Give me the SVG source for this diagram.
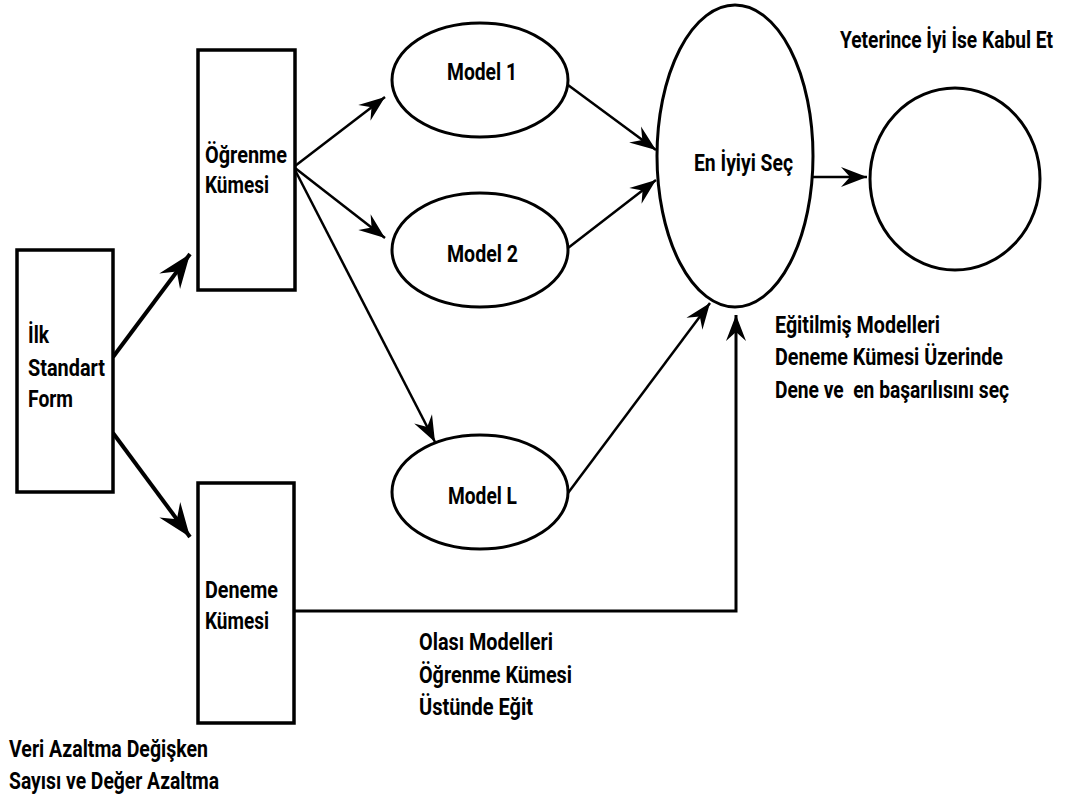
<svg xmlns="http://www.w3.org/2000/svg" width="1066" height="803" viewBox="0 0 1066 803">
<style>
  .box { fill: #ffffff; stroke: #000000; stroke-width: 3.5; }
  .ell { fill: #ffffff; stroke: #000000; stroke-width: 3; }
  .thin { fill: none; stroke: #000000; stroke-width: 2.5; marker-end: url(#ah); }
  .thick { fill: none; stroke: #000000; stroke-width: 4; marker-end: url(#ahb); }
  text { font-family: Roboto, "Liberation Sans", sans-serif; font-weight: bold; font-size: 24px; fill: #000000; }
</style>
<defs>
  <marker id="ah" markerUnits="userSpaceOnUse" viewBox="-28 -11 30 22" refX="0" refY="0" markerWidth="30" markerHeight="22" orient="auto">
    <path d="M0,0 L-26,-10 L-17,0 L-26,10 Z" fill="#000000"/>
  </marker>
  <marker id="ahb" markerUnits="userSpaceOnUse" viewBox="-36 -15 38 30" refX="0" refY="0" markerWidth="38" markerHeight="30" orient="auto">
    <path d="M0,0 L-34,-13 L-22,0 L-34,13 Z" fill="#000000"/>
  </marker>
</defs>
<rect width="1066" height="803" fill="#ffffff"/>

<g id="connectors">
  <line class="thick" x1="113" y1="357" x2="190" y2="254"/>
  <line class="thick" x1="113" y1="433" x2="190" y2="537"/>
  <line class="thin" x1="295" y1="166" x2="385" y2="97"/>
  <line class="thin" x1="295" y1="168" x2="385" y2="238"/>
  <line class="thin" x1="295" y1="170" x2="435" y2="442"/>
  <line class="thin" x1="568" y1="85" x2="656" y2="150"/>
  <line class="thin" x1="568" y1="248" x2="656" y2="180"/>
  <line class="thin" x1="568" y1="493" x2="710" y2="303"/>
  <line class="thin" x1="813" y1="177" x2="867" y2="177"/>
  <polyline class="thin" style="stroke-width:3" points="294,611 736,611 736,315"/>
</g>

<g id="ilk">
  <rect class="box" x="17" y="250" width="96" height="242"/>
  <text x="28" y="343" textLength="21" lengthAdjust="spacingAndGlyphs">İlk</text>
  <text x="28" y="376" textLength="77" lengthAdjust="spacingAndGlyphs">Standart</text>
  <text x="28" y="407" textLength="45" lengthAdjust="spacingAndGlyphs">Form</text>
</g>

<g id="ogrenme">
  <rect class="box" x="198" y="50" width="97" height="240"/>
  <text x="205" y="163" textLength="82" lengthAdjust="spacingAndGlyphs">Öğrenme</text>
  <text x="205" y="193" textLength="64" lengthAdjust="spacingAndGlyphs">Kümesi</text>
</g>

<g id="deneme">
  <rect class="box" x="198" y="483" width="96" height="240"/>
  <text x="205" y="598" textLength="73" lengthAdjust="spacingAndGlyphs">Deneme</text>
  <text x="205" y="629" textLength="64" lengthAdjust="spacingAndGlyphs">Kümesi</text>
</g>

<g id="model1">
  <ellipse class="ell" cx="480" cy="80" rx="88" ry="57"/>
  <text x="447" y="80" textLength="70" lengthAdjust="spacingAndGlyphs">Model 1</text>
</g>

<g id="model2">
  <ellipse class="ell" cx="480" cy="250" rx="88" ry="57"/>
  <text x="447" y="262" textLength="71" lengthAdjust="spacingAndGlyphs">Model 2</text>
</g>

<g id="modelL">
  <ellipse class="ell" cx="480" cy="492" rx="88" ry="57"/>
  <text x="448" y="504" textLength="69" lengthAdjust="spacingAndGlyphs">Model L</text>
</g>

<g id="eniyi">
  <ellipse class="ell" cx="735" cy="156" rx="78" ry="151"/>
  <text x="694" y="171" textLength="99" lengthAdjust="spacingAndGlyphs">En İyiyi Seç</text>
</g>

<g id="kabul">
  <ellipse class="ell" cx="955" cy="179" rx="85" ry="91"/>
  <text transform="translate(840,48) scale(0.75,1)" x="0" y="0" textLength="284" lengthAdjust="spacingAndGlyphs">Yeterince İyi İse Kabul Et</text>
</g>

<g id="label-egitilmis">
  <text x="775" y="333" textLength="165" lengthAdjust="spacingAndGlyphs">Eğitilmiş Modelleri</text>
  <text x="775" y="365" textLength="228" lengthAdjust="spacingAndGlyphs">Deneme Kümesi Üzerinde</text>
  <text x="775" y="398" textLength="234" lengthAdjust="spacingAndGlyphs" xml:space="preserve">Dene ve  en başarılısını seç</text>
</g>

<g id="label-olasi">
  <text x="419" y="650" textLength="134" lengthAdjust="spacingAndGlyphs">Olası Modelleri</text>
  <text x="419" y="683" textLength="153" lengthAdjust="spacingAndGlyphs">Öğrenme Kümesi</text>
  <text x="419" y="715" textLength="114" lengthAdjust="spacingAndGlyphs">Üstünde Eğit</text>
</g>

<g id="label-veri">
  <text x="9" y="757" textLength="199" lengthAdjust="spacingAndGlyphs">Veri Azaltma Değişken</text>
  <text x="9" y="789" textLength="210" lengthAdjust="spacingAndGlyphs">Sayısı ve Değer Azaltma</text>
</g>
</svg>
